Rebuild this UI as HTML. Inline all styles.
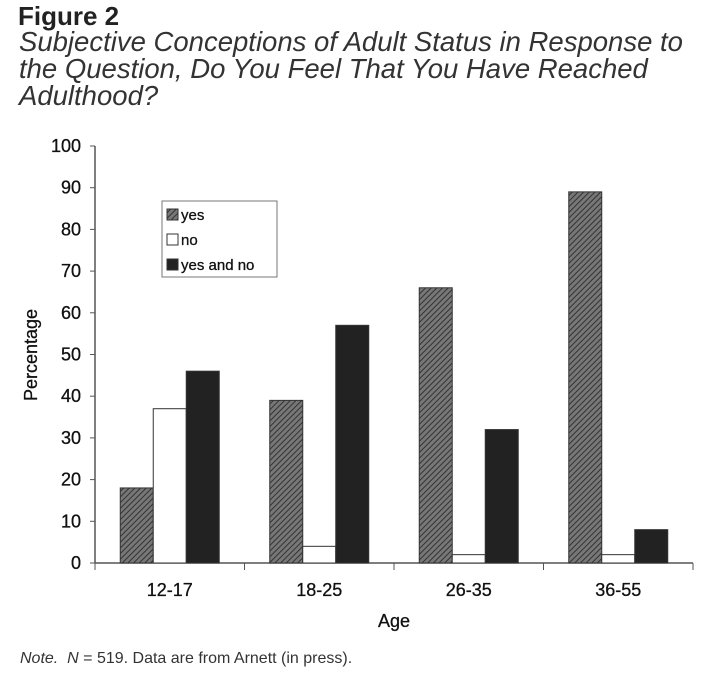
<!DOCTYPE html>
<html><head><meta charset="utf-8"><style>
body{margin:0;background:#fff;width:720px;height:687px;overflow:hidden;font-family:"Liberation Sans",sans-serif;}
</style></head><body>
<div style="position:absolute;left:18px;top:1px;font-size:26px;font-weight:bold;color:#222;">Figure 2</div>
<div style="position:absolute;left:19px;top:28px;font-size:27.5px;font-style:italic;line-height:27px;color:#333;width:710px;white-space:nowrap;">Subjective Conceptions of Adult Status in Response to<br>the Question, Do You Feel That You Have Reached<br>Adulthood?</div>
<svg width="720" height="687" style="position:absolute;left:0;top:0" id="chart">
<defs><pattern id="hatch" patternUnits="userSpaceOnUse" width="4" height="4" patternTransform="rotate(45)"><rect width="4" height="4" fill="#777"/><line x1="0" y1="0" x2="0" y2="4" stroke="#333" stroke-width="2"/></pattern></defs>
</svg>
<div style="position:absolute;left:20px;top:650px;font-size:16px;color:#333;"><i>Note.</i>&nbsp;&nbsp;<i>N</i> = 519. Data are from Arnett (in press).</div>
<script>
const categories=["12-17","18-25","26-35","36-55"];
const yesVals=[18,39,66,89];
const noVals=[37,4,2,2];
const bothVals=[46,57,32,8];
const yTicks=[0,10,20,30,40,50,60,70,80,90,100];
const svg=document.getElementById('chart');const NS='http://www.w3.org/2000/svg';
const x0=95,x1=693,y0=563,y100=146;
const yS=v=>y0-(y0-y100)*v/100;
const cw=(x1-x0)/categories.length;
const xC=i=>x0+cw*(i+0.5);
function mk(t,a,txt){const e=document.createElementNS(NS,t);for(const k in a)e.setAttribute(k,a[k]);if(txt!==undefined)e.textContent=txt;svg.appendChild(e);return e;}
let e;
e=mk('line',{x1:x0,y1:y100,x2:x0,y2:y0,stroke:'#555','stroke-width':1.5});


e=mk('line',{x1:x0,y1:y0,x2:x1,y2:y0,stroke:'#555','stroke-width':1.5});


yTicks.forEach(t=>{
 mk('line',{x1:x0-5,y1:yS(t),x2:x0,y2:yS(t),stroke:'#555'});
 e=mk('text',{x:x0-14,y:yS(t)+6,'text-anchor':'end','font-size':18,fill:'#111','stroke':'#111','stroke-width':0.3},t);
 
 
});
for(let i=0;i<=categories.length;i++){mk('line',{x1:x0+cw*i,y1:y0,x2:x0+cw*i,y2:y0+7,stroke:'#555'});}
const series=[[yesVals,'url(#hatch)','bar-yes'],[noVals,'#fff','bar-no'],[bothVals,'#222','bar-yes-and-no']];
const bw=33;
categories.forEach((c,i)=>{
 series.forEach((s,j)=>{
  const v=s[0][i];const x=xC(i)-bw*1.5+bw*j;
  e=mk('rect',{x:x,y:yS(v),width:bw,height:y0-yS(v),fill:s[1],stroke:'#333','stroke-width':1});
  
  
 });
 e=mk('text',{x:xC(i),y:596,'text-anchor':'middle','font-size':18,fill:'#111','stroke':'#111','stroke-width':0.3},c);
 
 
});
e=mk('text',{x:394,y:627,'text-anchor':'middle','font-size':18,fill:'#111','stroke':'#111','stroke-width':0.3},'Age');


e=mk('text',{x:0,y:0,'text-anchor':'middle','font-size':18,fill:'#111','stroke':'#111','stroke-width':0.3,transform:'translate(37,355) rotate(-90)'},'Percentage');


e=mk('rect',{x:162,y:201,width:115,height:76,fill:'#fff',stroke:'#777'});


const labels=['yes','no','yes and no'];
series.forEach((s,j)=>{
 const y=209+j*25;
 mk('rect',{x:167,y:y,width:11,height:11,fill:s[1],stroke:'#333'});
 e=mk('text',{x:181,y:y+11,'font-size':15,fill:'#111','stroke':'#111','stroke-width':0.3},labels[j]);
 
 
});
</script>
</body></html>
